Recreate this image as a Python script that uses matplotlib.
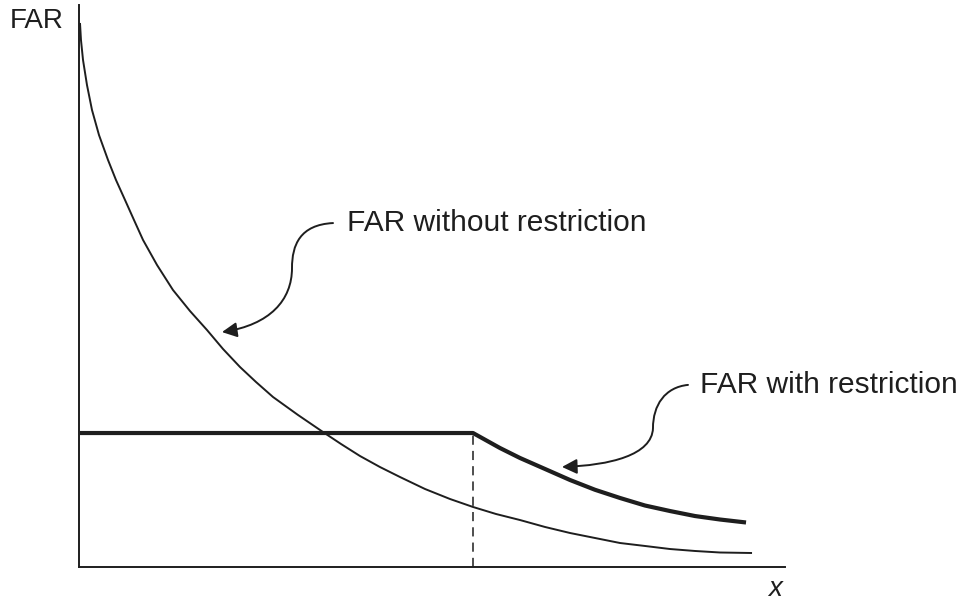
import numpy as np
import matplotlib
matplotlib.use("Agg")
import matplotlib.pyplot as plt
from matplotlib.patches import FancyArrowPatch
from matplotlib.path import Path

plt.rcParams['font.family'] = ['Liberation Sans', 'DejaVu Sans']

# FAR without restriction (thin curve)
x_free = [0.014, 0.028, 0.057, 0.113, 0.184, 0.283, 0.411, 0.524, 0.652, 0.779,
          0.907, 1.105, 1.331, 1.572, 1.813, 2.040, 2.280, 2.507, 2.748, 3.102,
          3.456, 3.711, 3.980, 4.263, 4.547, 4.901, 5.255, 5.581, 5.907, 6.246,
          6.601, 6.955, 7.309, 7.663, 8.017, 8.371, 8.725, 9.079, 9.533]
far_free = [9.680, 9.377, 9.021, 8.577, 8.132, 7.687, 7.242, 6.886, 6.530, 6.174,
            5.819, 5.374, 4.929, 4.555, 4.217, 3.879, 3.559, 3.292, 3.025, 2.705,
            2.402, 2.189, 1.975, 1.779, 1.601, 1.388, 1.210, 1.068, 0.943, 0.836,
            0.712, 0.605, 0.516, 0.427, 0.374, 0.320, 0.285, 0.258, 0.249]

# FAR with restriction (thick line): flat cap, then falls off
x_rest = [0.014, 5.581, 5.963, 6.246, 6.601, 6.955, 7.309, 7.663, 8.017,
          8.371, 8.725, 9.079, 9.448]
far_rest = [2.384, 2.384, 2.117, 1.940, 1.744, 1.548, 1.374, 1.228, 1.094,
            0.996, 0.907, 0.845, 0.792]

x_cut = 5.581
label_free = "FAR without restriction"
label_rest = "FAR with restriction"
ink = "#1e1e1e"

fig = plt.figure(figsize=(9.61, 6.01), dpi=100)
ax = fig.add_axes([79 / 961, 34 / 601, 706 / 961, 562 / 601])
ax.set_xlim(0, 10)
ax.set_ylim(0, 10)
for s in ['top', 'right']:
    ax.spines[s].set_visible(False)
for s in ['left', 'bottom']:
    ax.spines[s].set_linewidth(1.4)
    ax.spines[s].set_color(ink)
ax.set_xticks([])
ax.set_yticks([])

ax.plot(x_free, far_free, color=ink, lw=1.4, solid_capstyle='butt', solid_joinstyle='round')
ax.plot(x_rest, far_rest, color=ink, lw=3.0, solid_capstyle='butt', solid_joinstyle='round')
ax.plot([x_cut, x_cut], [0, far_rest[1]], color=ink, lw=1.1, ls=(0, (6, 4)))

# curly pointer arrows
def curly(points):
    codes = [Path.MOVETO] + [Path.CURVE4] * (len(points) - 1)
    return Path(points, codes)

arrow_free = curly([(3.598, 6.12), (3.130, 6.09), (3.017, 5.73), (3.017, 5.32),
                    (3.017, 4.75), (2.705, 4.31), (2.025, 4.18)])
arrow_rest = curly([(8.626, 3.24), (8.300, 3.20), (8.130, 2.88), (8.130, 2.47),
                    (8.116, 1.99), (7.521, 1.81), (6.841, 1.78)])
for p in (arrow_free, arrow_rest):
    ax.add_patch(FancyArrowPatch(path=p, arrowstyle='-|>,head_length=9,head_width=4.5',
                                 color=ink, lw=1.4, clip_on=False))

ax.text(3.796, 6.12, label_free, fontsize=21.5, color=ink, ha='left', va='center')
ax.text(8.796, 3.24, label_rest, fontsize=21.5, color=ink, ha='left', va='center',
        clip_on=False)

fig.text(37 / 961, 1 - 21 / 601, "FAR", fontsize=20, color=ink, ha='center', va='center')
fig.text(775 / 961, 1 - 589 / 601, "x", fontsize=20, style='italic', color=ink,
         ha='center', va='center')

fig.savefig("out.png", dpi=100)
